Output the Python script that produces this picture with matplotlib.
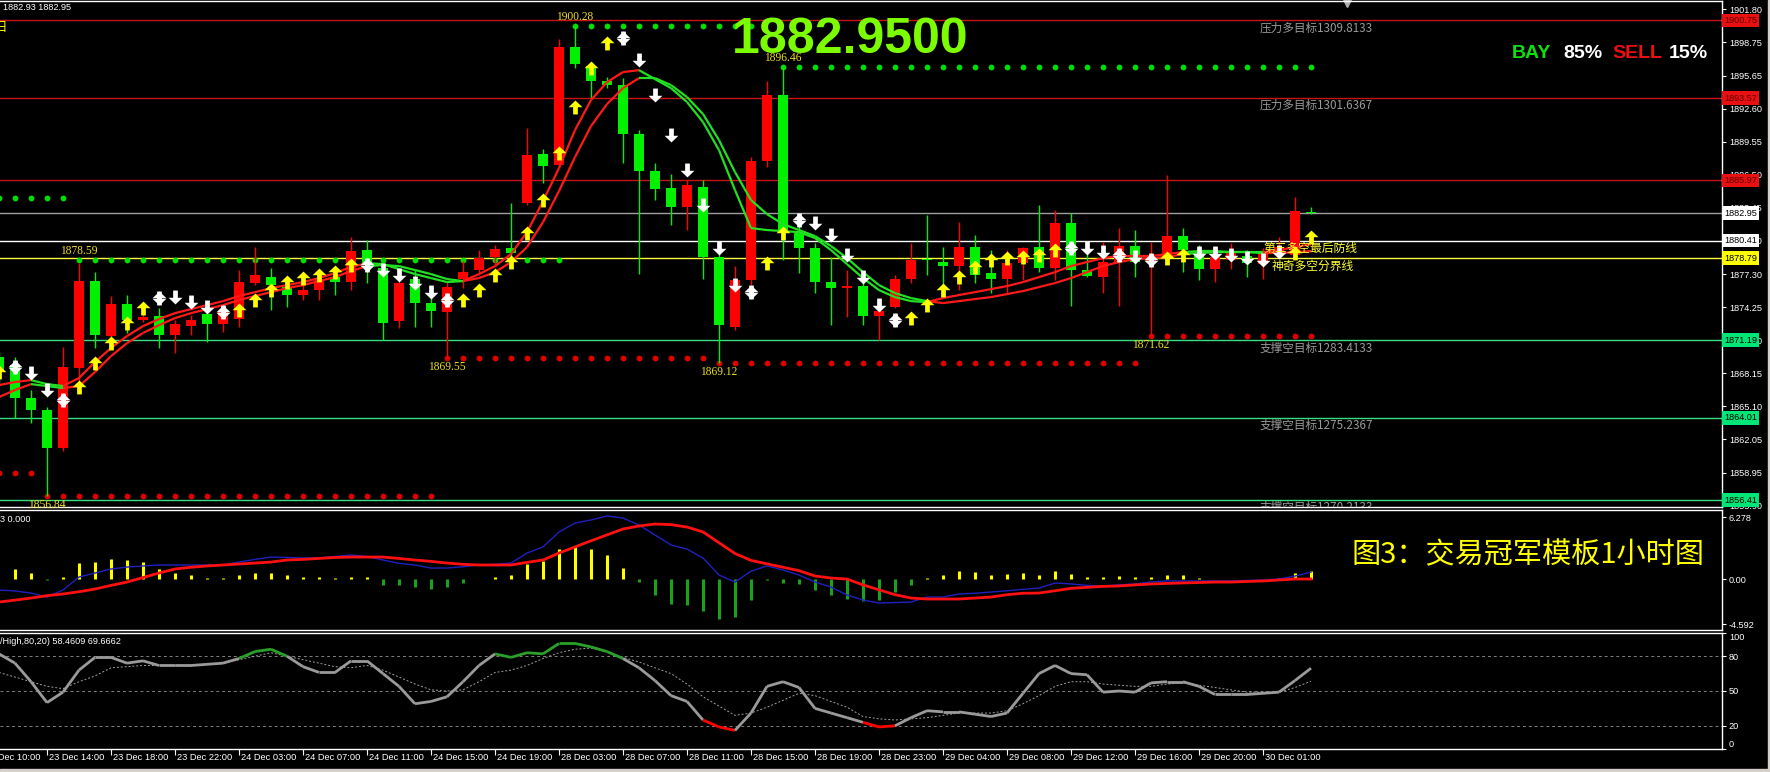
import numpy as np
import matplotlib.pyplot as plt
from matplotlib.path import Path
from matplotlib.collections import LineCollection
from matplotlib.transforms import blended_transform_factory
from matplotlib.patches import Rectangle

plt.rcParams['font.family'] = ['Liberation Sans', 'DejaVu Sans']
CJK = ['Noto Sans CJK SC', 'DejaVu Sans']

# ---------------- data (XAUUSD H1) ----------------
opens = [1869.6, 1868.9, 1865.9, 1864.7, 1861.2, 1868.6, 1876.7, 1871.6, 1874.5, 1873.1,
         1873.4, 1871.7, 1872.5, 1873.6, 1872.7, 1873.2, 1876.5, 1877.0, 1876.1, 1875.4,
         1875.8, 1877.0, 1876.6, 1879.5, 1877.9, 1873.0, 1876.9, 1874.6, 1873.8, 1876.9,
         1877.7, 1878.9, 1879.7, 1883.9, 1888.4, 1887.4, 1898.3, 1896.5, 1895.2, 1894.8,
         1890.3, 1886.8, 1885.3, 1883.5, 1885.4, 1878.9, 1872.4, 1876.8, 1887.8, 1893.9,
         1881.1, 1879.7, 1876.6, 1876.0, 1876.2, 1873.4, 1874.3, 1876.9, 1878.7, 1878.4,
         1878.1, 1879.8, 1877.4, 1876.9, 1878.3, 1879.8, 1877.9, 1882.0, 1877.7, 1877.0,
         1878.4, 1879.9, 1878.4, 1878.9, 1880.8, 1879.25, 1877.8, 1878.6, 1879.0, 1878.2,
         1879.25, 1879.1, 1883.0]
highs = [1870.1, 1869.6, 1866.6, 1865.0, 1870.6, 1878.3, 1877.5, 1875.3, 1875.4, 1873.6,
         1874.2, 1873.1, 1873.5, 1874.4, 1874.4, 1877.7, 1879.8, 1877.9, 1876.9, 1876.5,
         1877.4, 1877.7, 1880.7, 1880.5, 1878.3, 1876.9, 1877.7, 1876.1, 1876.6, 1878.5,
         1879.5, 1880.0, 1883.9, 1890.8, 1888.9, 1899.0, 1900.28, 1896.9, 1895.5, 1895.4,
         1890.6, 1887.6, 1886.6, 1886.0, 1886.0, 1879.5, 1878.1, 1888.1, 1895.2, 1896.46,
         1882.0, 1880.2, 1878.9, 1877.7, 1877.2, 1874.6, 1877.2, 1880.2, 1882.8, 1879.8,
         1882.1, 1880.9, 1879.5, 1879.5, 1879.8, 1883.7, 1883.2, 1883.0, 1880.4, 1880.3,
         1881.6, 1881.4, 1880.3, 1886.5, 1881.6, 1880.0, 1879.8, 1880.2, 1879.5, 1879.7,
         1880.7, 1884.4, 1883.5]
lows = [1867.2, 1864.0, 1863.5, 1856.84, 1861.0, 1867.2, 1870.5, 1871.3, 1871.9, 1872.9,
        1870.5, 1870.0, 1871.7, 1871.0, 1872.0, 1872.4, 1876.3, 1874.0, 1874.3, 1874.9,
        1874.9, 1875.4, 1875.8, 1876.5, 1871.2, 1872.3, 1872.4, 1872.4, 1869.55, 1876.0,
        1877.2, 1878.1, 1878.6, 1883.7, 1885.7, 1887.2, 1896.35, 1893.6, 1894.5, 1887.6,
        1877.3, 1884.2, 1881.8, 1881.4, 1876.9, 1869.12, 1872.1, 1876.3, 1887.2, 1878.6,
        1877.4, 1875.6, 1872.6, 1873.3, 1872.6, 1871.2, 1874.2, 1876.5, 1877.2, 1875.6,
        1875.8, 1876.5, 1875.6, 1875.6, 1876.8, 1877.5, 1876.8, 1874.4, 1877.0, 1875.6,
        1874.4, 1877.0, 1871.62, 1878.4, 1877.5, 1876.75, 1876.6, 1877.8, 1877.0, 1876.9,
        1878.9, 1878.8, 1882.9]
closes = [1868.3, 1865.9, 1864.7, 1861.2, 1868.7, 1876.7, 1871.7, 1874.5, 1873.1, 1873.3,
          1871.7, 1872.7, 1873.1, 1872.7, 1873.8, 1876.6, 1877.2, 1876.3, 1875.4, 1875.8,
          1876.9, 1876.6, 1879.4, 1878.3, 1872.8, 1876.5, 1874.6, 1873.9, 1876.1, 1877.5,
          1878.8, 1879.6, 1879.25, 1888.3, 1887.3, 1898.3, 1896.7, 1895.2, 1894.8, 1890.3,
          1886.8, 1885.2, 1883.5, 1885.5, 1878.9, 1872.6, 1876.8, 1887.8, 1893.9, 1881.4,
          1879.7, 1876.6, 1876.0, 1876.2, 1873.4, 1873.9, 1876.9, 1878.6, 1878.6, 1878.1,
          1879.8, 1877.2, 1876.9, 1878.3, 1879.7, 1877.9, 1882.0, 1877.7, 1877.1, 1878.4,
          1879.9, 1878.4, 1878.9, 1880.8, 1879.5, 1877.8, 1878.9, 1879.3, 1878.3, 1879.3,
          1879.8, 1883.1, 1882.95]

ma_fast = [1867.05, 1867.33, 1867.51, 1867.14, 1866.96, 1867.70, 1869.18, 1870.47, 1871.58, 1872.50,
           1873.15, 1873.70, 1874.07, 1874.44, 1874.81, 1875.28, 1875.64, 1876.01, 1876.29, 1876.57,
           1876.94, 1877.40, 1877.96, 1878.32, 1878.23, 1877.77, 1877.31, 1876.94, 1876.57, 1876.66,
           1877.31, 1878.05, 1879.16, 1881.19, 1884.05, 1887.11, 1890.62, 1893.39, 1895.05, 1895.98,
           1896.16, 1895.33, 1894.50, 1893.21, 1891.36, 1888.77, 1885.07, 1881.56, 1881.38, 1881.28,
           1881.19, 1880.64, 1879.53, 1878.23, 1876.94, 1875.83, 1875.18, 1874.81, 1874.72, 1875.09,
           1875.37, 1875.64, 1875.92, 1876.20, 1876.57, 1877.03, 1877.49, 1878.05, 1878.42, 1878.79,
           1878.97, 1878.97, 1878.97, 1879.16, 1879.34, 1879.43, 1879.43, 1879.34, 1879.34, 1879.34,
           1879.53, 1879.80, 1880.08]
ma_slow = [1865.94, 1866.59, 1867.14, 1866.96, 1866.77, 1866.96, 1868.25, 1869.73, 1870.93, 1871.86,
           1872.59, 1873.24, 1873.70, 1874.07, 1874.44, 1874.91, 1875.28, 1875.64, 1876.01, 1876.29,
           1876.66, 1877.03, 1877.59, 1878.05, 1878.14, 1878.05, 1877.68, 1877.31, 1876.85, 1876.66,
           1876.94, 1877.49, 1878.42, 1879.80, 1882.11, 1884.98, 1888.12, 1890.99, 1893.02, 1894.50,
           1895.42, 1895.42, 1894.78, 1893.67, 1892.10, 1889.69, 1886.74, 1884.15, 1882.85, 1881.93,
           1881.38, 1880.82, 1879.90, 1878.79, 1877.49, 1876.29, 1875.55, 1875.09, 1874.81, 1874.63,
           1874.81, 1875.00, 1875.18, 1875.46, 1875.74, 1876.11, 1876.48, 1876.94, 1877.49, 1878.05,
           1878.42, 1878.69, 1878.79, 1878.88, 1879.16, 1879.25, 1879.34, 1879.34, 1879.34, 1879.25,
           1879.25, 1879.34, 1879.43]
ma_trend = 'uudd' + 'u' * 19 + 'd' * 6 + 'u' * 11 + 'd' * 18 + 'u' * 16 + 'd' * 5 + 'u' * 4

up_idx = [0, 5, 6, 7, 8, 9, 15, 16, 17, 18, 19, 20, 21, 22, 29, 30, 31, 32, 33, 34,
          35, 36, 37, 38, 48, 49, 57, 58, 59, 60, 61, 62, 63, 64, 65, 66, 73, 74, 81, 82]
up_price = [1868.25, 1866.86, 1869.08, 1870.93, 1872.78, 1874.17, 1873.98, 1874.91, 1875.83, 1876.57,
            1876.94, 1877.22, 1877.49, 1878.14, 1874.91, 1875.83, 1877.22, 1878.42, 1881.10, 1884.15,
            1888.49, 1892.74, 1896.35, 1898.66, 1878.32, 1881.10, 1873.24, 1874.44, 1875.83, 1877.03,
            1877.96, 1878.60, 1878.79, 1878.88, 1879.06, 1879.53, 1878.79, 1879.06, 1879.25, 1880.73]
dn_idx = [1, 2, 3, 4, 10, 11, 12, 13, 14, 23, 24, 25, 26, 27, 28, 39, 40, 41, 42, 43,
          44, 45, 46, 47, 50, 51, 52, 53, 54, 55, 56, 67, 68, 69, 70, 71, 72, 75, 76, 77,
          78, 79, 80]
dn_price = [1868.71, 1868.16, 1866.59, 1865.66, 1875.09, 1875.18, 1874.72, 1874.26, 1873.80, 1878.14,
            1877.68, 1877.22, 1876.48, 1875.64, 1874.91, 1899.12, 1897.09, 1893.85, 1890.15, 1886.92,
            1883.69, 1879.71, 1876.29, 1875.64, 1882.30, 1882.02, 1880.91, 1879.06, 1877.03, 1874.44,
            1873.06, 1879.71, 1879.71, 1879.34, 1879.06, 1878.88, 1878.60, 1879.25, 1879.25, 1879.06,
            1878.79, 1878.60, 1879.34]
cross_idx = [1, 4, 10, 14, 23, 28, 39, 47, 50, 56, 67, 70, 72]

green_dot_level = [1884.33, 1878.59, 1900.28, 1896.46]
green_dot_from = [0, 5, 36, 49]
green_dot_to = [4, 35, 47, 82]
red_dot_level = [1858.92, 1856.84, 1869.55, 1869.12, 1871.62]
red_dot_from = [0, 3, 28, 45, 72]
red_dot_to = [2, 27, 44, 71, 82]
extreme_labels = [(5, 1878.59, 'top'), (36, 1900.28, 'top'), (49, 1896.46, 'top'),
                  (3, 1856.84, 'bottom'), (28, 1869.55, 'bottom'), (45, 1869.12, 'bottom'),
                  (72, 1871.62, 'bottom')]

red_levels = [1900.75, 1893.57, 1885.97]
green_levels = [1871.19, 1864.01, 1856.41]
price_now = 1882.95
white_level = 1880.41
yellow_level = 1878.79
target_text = [('压力多目标1309.8133', 1900.75), ('压力多目标1301.6367', 1893.57),
               ('支撑空目标1283.4133', 1871.19), ('支撑空目标1275.2367', 1864.01),
               ('支撑空目标1270.2133', 1856.41)]
price_ticks = [1901.80, 1898.75, 1895.65, 1892.60, 1889.55, 1886.50, 1883.45, 1880.40,
               1877.30, 1874.25, 1871.20, 1868.15, 1865.10, 1862.05, 1858.95, 1855.90]

macd_hist = [0.0, 1.0, 0.6, -0.1, 0.25, 1.6, 1.7, 2.0, 1.95, 1.7,
             1.0, 0.65, 0.4, 0.15, 0.15, 0.4, 0.65, 0.65, 0.4, 0.17,
             0.17, 0.07, 0.17, 0.17, -0.6, -0.6, -0.85, -1.05, -0.8, -0.45,
             0.03, 0.25, 0.4, 1.5, 1.85, 3.1, 3.4, 3.1, 2.5, 1.1,
             -0.3, -1.6, -2.5, -2.7, -3.3, -4.1, -3.9, -2.1, -0.1, -0.4,
             -0.5, -1.1, -1.6, -2.0, -2.2, -2.1, -1.3, -0.6, 0.07, 0.4,
             0.85, 0.75, 0.4, 0.5, 0.65, 0.4, 0.85, 0.5, 0.17, 0.17,
             0.3, 0.17, 0.17, 0.4, 0.4, 0.1, 0.05, 0.05, -0.03, 0.05,
             0.1, 0.6, 0.8]
macd_line = [-1.12, -1.22, -1.43, -1.84, -1.12, 0.2, 0.61, 1.02, 1.22, 1.33,
             1.43, 1.43, 1.43, 1.43, 1.43, 1.73, 2.0, 2.24, 2.2, 2.15,
             2.15, 2.3, 2.45, 2.3, 1.94, 1.6, 1.43, 1.12, 1.12, 1.25,
             1.43, 1.5, 1.63, 2.65, 3.27, 4.8, 5.71, 6.02, 6.43, 6.22,
             5.51, 4.49, 3.47, 3.06, 2.14, 0.41, -0.31, 0.8, 1.33, 0.92,
             0.41, -0.31, -0.82, -1.63, -2.14, -2.45, -2.4, -2.35, -1.84, -1.84,
             -1.53, -1.45, -1.33, -1.2, -1.05, -0.92, -0.41, -0.5, -0.65, -0.71,
             -0.6, -0.5, -0.3, -0.2, -0.2, -0.2, -0.2, -0.2, -0.15, -0.1,
             0.0, 0.3, 0.71]
macd_signal = [-2.35, -2.15, -1.94, -1.7, -1.53, -1.3, -1.02, -0.65, -0.31, 0.15,
               0.61, 1.02, 1.2, 1.33, 1.43, 1.53, 1.63, 1.73, 1.94, 2.0,
               2.1, 2.2, 2.24, 2.24, 2.24, 2.1, 1.94, 1.8, 1.63, 1.5,
               1.43, 1.43, 1.43, 1.7, 1.94, 2.65, 3.27, 3.9, 4.5, 5.1,
               5.41, 5.61, 5.55, 5.3, 4.8, 3.7, 2.6, 1.9, 1.55, 1.2,
               0.85, 0.31, 0.1, 0.0, -0.6, -1.1, -1.6, -1.94, -2.04, -2.04,
               -2.04, -1.94, -1.84, -1.6, -1.45, -1.43, -1.2, -0.95, -0.85, -0.75,
               -0.71, -0.6, -0.51, -0.45, -0.4, -0.36, -0.31, -0.31, -0.25, -0.2,
               -0.1, 0.0, 0.0]

stoch_main = [82, 74, 58, 40, 49, 68, 79, 79, 74, 76, 72, 72, 72, 73, 74, 78, 84, 86, 80, 71,
              66, 66, 76, 76, 65, 54, 39, 41, 45, 58, 72, 82, 79, 83, 82, 91, 91, 88, 84, 78,
              70, 59, 46, 41, 25, 19, 16, 31, 54, 58, 53, 35, 31, 27, 23, 19, 20, 27, 33, 32,
              32, 30, 28, 31, 48, 65, 72, 65, 64, 49, 50, 49, 57, 58, 58, 54, 47, 47, 47, 48,
              49, 59, 69.67]
stoch_signal = [66, 62, 58, 54, 52, 58, 63, 70, 71, 72, 72, 72, 72, 73, 74, 77, 80, 83, 80, 77,
                74, 71, 70, 72, 68, 62, 56, 51, 50, 51, 58, 66, 68, 72, 78, 83, 86, 87, 84, 79,
                75, 70, 65, 56, 45, 37, 29, 31, 36, 42, 48, 46, 41, 36, 28, 26, 25, 26, 27, 29,
                31, 31, 31, 33, 39, 46, 54, 58, 58, 56, 55, 54, 54, 56, 57, 55, 53, 51, 49, 49,
                49, 53, 58.46]

time_idx = [-1, 3, 7, 11, 15, 19, 23, 27, 31, 35, 39, 43, 47, 51, 55, 59, 63, 67, 71, 75, 79]
time_labels = ['23 Dec 10:00', '23 Dec 14:00', '23 Dec 18:00', '23 Dec 22:00', '24 Dec 03:00',
               '24 Dec 07:00', '24 Dec 11:00', '24 Dec 15:00', '24 Dec 19:00', '28 Dec 03:00',
               '28 Dec 07:00', '28 Dec 11:00', '28 Dec 15:00', '28 Dec 19:00', '28 Dec 23:00',
               '29 Dec 04:00', '29 Dec 08:00', '29 Dec 12:00', '29 Dec 16:00', '29 Dec 20:00',
               '30 Dec 01:00']

# ---------------- colours ----------------
BULL = '#ff0000'
BEAR = '#00f000'
LINE_RED = '#c81414'
LINE_GREEN = '#3cdc82'
GOLD = '#eedd22'

W, H = 1770, 772
XLIM = (1 / 16, 1723 / 16)
fig = plt.figure(figsize=(W / 100, H / 100), dpi=100, facecolor='black')


def panel(top, bottom):
    a = fig.add_axes([0, 1 - bottom / H, 1722 / W, (bottom - top) / H])
    a.set_facecolor('black')
    for side in ('top', 'bottom', 'right'):
        a.spines[side].set_color('white')
        a.spines[side].set_linewidth(1)
    a.spines['left'].set_visible(False)
    a.yaxis.tick_right()
    a.tick_params(axis='y', colors='white', labelsize=6.6, length=3, pad=2, width=0.8)
    a.tick_params(axis='x', bottom=False, labelbottom=False)
    return a


ax = panel(1, 507)
ax_macd = panel(510, 630)
ax_sto = panel(633, 749)

bars = np.arange(len(opens))
o, h, l, c = map(np.array, (opens, highs, lows, closes))

# ---------------- main panel ----------------
ax.set_ylim(1855.78, 1902.55)
ax.set_yticks(price_ticks)
ax.set_yticklabels(['%.2f' % v for v in price_ticks])

for lv in red_levels:
    ax.axhline(lv, color=LINE_RED, lw=1, zorder=1)
for lv in green_levels:
    ax.axhline(lv, color=LINE_GREEN, lw=1, zorder=1)
ax.axhline(price_now, color='#a0a0a0', lw=1, zorder=1)
ax.axhline(white_level, color='white', lw=1, zorder=1)
ax.axhline(yellow_level, color='#ffff40', lw=1, zorder=1)

for lv, a0, a1 in zip(green_dot_level, green_dot_from, green_dot_to):
    xs = np.arange(a0, a1 + 1)
    ax.plot(xs, [lv] * len(xs), 'o', color='#00dd00', ms=4.2, mew=0, zorder=2)
for lv, a0, a1 in zip(red_dot_level, red_dot_from, red_dot_to):
    xs = np.arange(a0, a1 + 1)
    ax.plot(xs, [lv] * len(xs), 'o', color='#e00000', ms=4.2, mew=0, zorder=2)

# candles
cols = np.where(c >= o, BULL, BEAR)
ax.vlines(bars, l, h, colors=cols, lw=1, zorder=3)
body = np.maximum(np.abs(c - o), 0.1)
ax.bar(bars, body, bottom=np.minimum(o, c), width=0.62, color=cols, lw=0, zorder=3)

# trend moving averages
for series in (ma_slow, ma_fast):
    pts = np.column_stack([bars, series])
    segs = np.stack([pts[:-1], pts[1:]], axis=1)
    seg_cols = ['#ff1a1a' if t == 'u' else '#22e022' for t in ma_trend[:-1]]
    ax.add_collection(LineCollection(segs, colors=seg_cols, linewidths=1.6, zorder=4))

# signal arrows
arrow_up = Path([(0, 0.5), (0.5, 0.02), (0.17, 0.02), (0.17, -0.5), (-0.17, -0.5),
                 (-0.17, 0.02), (-0.5, 0.02), (0, 0.5)], closed=True)
arrow_dn = Path([(x, -y) for x, y in arrow_up.vertices], closed=True)
ax.scatter(up_idx, up_price, marker=arrow_up, s=100, c='#ffff00', linewidths=0, zorder=6)
ax.scatter(dn_idx, dn_price, marker=arrow_dn, s=100, c='white', linewidths=0, zorder=6)
cross_price = [dn_price[dn_idx.index(i)] for i in cross_idx]
ax.scatter(cross_idx, cross_price, marker=arrow_up, s=100, c='white', linewidths=0, zorder=6)

for i, lv, side in extreme_labels:
    ax.annotate('%.2f' % lv, (i, lv), xytext=(0, 9 if side == 'top' else -9),
                textcoords='offset pixels', ha='center', va='center',
                color=GOLD, fontsize=8.3, family='Liberation Serif', zorder=7)

for txt, lv in target_text:
    ax.annotate(txt, (78.8, lv), xytext=(0, -7.5), textcoords='offset pixels',
                ha='left', va='center', color='#9a9a9a', fontsize=8.4, family=CJK,
                annotation_clip=False, clip_on=True, zorder=7)
ax.annotate('第三多空最后防线', (79.0, white_level), xytext=(0, -8), textcoords='offset pixels',
            ha='left', va='center', color='#ffff33', fontsize=8.5, family=CJK, zorder=7)
ax.annotate('神奇多空分界线', (79.56, yellow_level), xytext=(0, -8), textcoords='offset pixels',
            ha='left', va='center', color='#ffff33', fontsize=8.5, family=CJK, zorder=7)

# price boxes on the scale
tr = blended_transform_factory(ax.transAxes, ax.transData)
boxes = [(lv, '#e81010', '#600000') for lv in red_levels]
boxes += [(price_now, 'white', 'black'), (white_level, 'white', 'black'),
          (yellow_level, '#ffff00', 'black')]
boxes += [(lv, '#00e676', 'black') for lv in green_levels]
for lv, fc, tc in boxes:
    ax.text(1.0012, lv, '%.2f' % lv, transform=tr, ha='left', va='center', fontsize=6.6,
            color=tc, clip_on=False, zorder=10,
            bbox=dict(boxstyle='square,pad=0.25', fc=fc, ec='none'))

ax.plot([84.25], [0.997], marker='v', color='#b0b0b0', ms=6,
        transform=blended_transform_factory(ax.transData, ax.transAxes), clip_on=False)

# ---------------- MACD ----------------
ax_macd.set_ylim(-5.20, 7.04)
ax_macd.set_yticks([6.278, 0.0, -4.592])
ax_macd.set_yticklabels(['6.278', '0.00', '-4.592'])
hist = np.array(macd_hist)
ax_macd.vlines(bars, 0, hist, colors=np.where(hist > 0, '#ffff00', '#1ea01e'), lw=2.2)
ax_macd.plot(bars, macd_line, color='#2020c0', lw=1)
ax_macd.plot(bars, macd_signal, color='#ff1010', lw=2)

# ---------------- Stochastic ----------------
ax_sto.set_ylim(0, 100)
ax_sto.set_yticks([100, 80, 50, 20, 0])
ax_sto.set_yticklabels(['100', '80', '50', '20', '0'])
for lv in (80, 50, 20):
    ax_sto.axhline(lv, color='#808080', lw=0.7, ls=(0, (3, 3)))
ax_sto.plot(bars, stoch_signal, color='#a0a0a0', lw=0.7, ls=(0, (2, 2)))
k = np.array(stoch_main, dtype=float)
pts = np.column_stack([bars, k])
segs = np.stack([pts[:-1], pts[1:]], axis=1)
seg_cols = []
for a, b in zip(k[:-1], k[1:]):
    if max(a, b) > 80 and min(a, b) >= 77:
        seg_cols.append('#2aa02a')
    elif min(a, b) <= 20 and max(a, b) <= 25:
        seg_cols.append('#ff0000')
    else:
        seg_cols.append('#9a9a9a')
ax_sto.add_collection(LineCollection(segs, colors=seg_cols, linewidths=2))
lbls = ax_sto.get_yticklabels()
lbls[0].set_va('top')
lbls[-1].set_va('bottom')

# time axis
ax_sto.set_xticks(time_idx)
ax_sto.tick_params(axis='x', bottom=True, labelbottom=False, colors='white', length=4,
                   direction='out', width=0.8)
ttr = blended_transform_factory(ax_sto.transData, ax_sto.transAxes)
for i, lab in zip(time_idx, time_labels):
    ax_sto.text(i + 0.15, -0.075, lab, transform=ttr, ha='left', va='center',
                color='white', fontsize=6.7, clip_on=False)

# same bar scale on every panel (set after the ticks, which would widen it)
for a in (ax, ax_macd, ax_sto):
    a.set_xlim(*XLIM)


# ---------------- header texts ----------------
def ftext(x, y, s, **kw):
    fig.text(x / W, 1 - y / H, s, **kw)


ftext(3, 8, '1882.93 1882.95', color='white', fontsize=6.6, va='center')
ftext(-5, 28, '日', color='#ffff00', fontsize=9, va='center', family=CJK)
ftext(850, 40, '1882.9500', color='#7cfc00', fontsize=36, weight='bold',
      ha='center', va='center')
ftext(1512, 54, 'BAY', color='#10e010', fontsize=14, weight='bold', va='center')
ftext(1563, 54, '85%', color='white', fontsize=14, weight='bold', va='center')
ftext(1612, 54, 'SELL', color='#ee1010', fontsize=14, weight='bold', va='center')
ftext(1669, 54, '15%', color='white', fontsize=14, weight='bold', va='center')
ftext(0, 519, '3 0.000', color='white', fontsize=6.6, va='center')
ftext(0, 642, '/High,80,20) 58.4609 69.6662', color='white', fontsize=6.6, va='center')
ftext(1352, 555, '图3：交易冠军模板1小时图', color='#ffff00', fontsize=21, va='center',
      family=CJK)

fig.add_artist(Rectangle((1768 / W, 0), 2 / W, 1, transform=fig.transFigure,
                         color='#d4d0c8', zorder=20))
fig.add_artist(Rectangle((0, 0), 1, 3 / H, transform=fig.transFigure,
                         color='#d4d0c8', zorder=20))

fig.savefig('out.png', dpi=100, facecolor='black')
